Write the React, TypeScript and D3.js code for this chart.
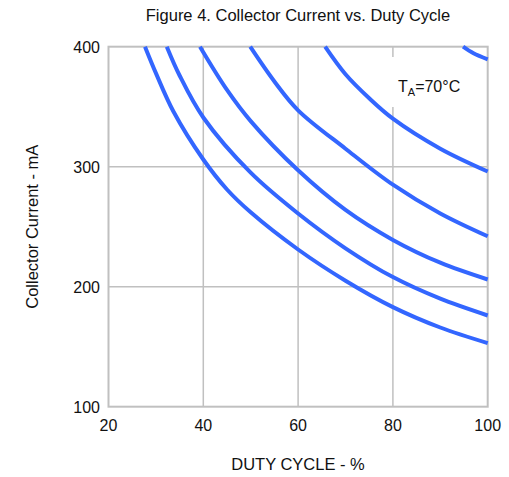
import React from 'react';
import * as d3 from 'd3';

const W = 509;
const H = 477;

// curves: duty cycle (%) and collector current (mA)
const curve1Duty = [27.7, 30, 33.7, 40, 45, 50, 60, 70, 80, 90, 100];
const curve1Current = [400, 378, 346, 306, 281, 262, 231, 205, 183, 166, 153];
const curve2Duty = [32.3, 35, 40, 50, 60, 70, 80, 90, 100];
const curve2Current = [400, 376, 341, 295, 261, 232, 208, 190, 176];
const curve3Duty = [39.3, 45, 50, 60, 70, 80, 90, 100];
const curve3Current = [400, 364, 338, 297, 264, 239, 220, 206];
const curve4Duty = [49.9, 55, 60, 70, 80, 90, 100];
const curve4Current = [400, 371, 347, 315, 285, 261, 242];
const curve5Duty = [65.7, 70, 75, 80, 90, 100];
const curve5Current = [400, 377, 357, 340, 315, 296];
const curve6Duty = [94.8, 97, 100];
const curve6Current = [400, 394.5, 389.5];

const xTicks = [20, 40, 60, 80, 100];
const yTicks = [100, 200, 300, 400];

const curves = [
  [curve1Duty, curve1Current],
  [curve2Duty, curve2Current],
  [curve3Duty, curve3Current],
  [curve4Duty, curve4Current],
  [curve5Duty, curve5Current],
  [curve6Duty, curve6Current],
].map(([xs, ys]) => xs.map((x, i) => [x, ys[i]] as [number, number]));

const FONT = 'Liberation Sans, Arial, sans-serif';
const BLUE = '#3366ff';
const GRID = '#c0c0c0';

export default function App() {
  const x = d3.scaleLinear().domain([20, 100]).range([108.5, 487.7]);
  const y = d3.scaleLinear().domain([100, 400]).range([406.7, 46.7]);

  const line = d3.line<[number, number]>()
    .x(d => x(d[0]))
    .y(d => y(d[1]))
    .curve(d3.curveCatmullRom.alpha(0.5));

  return (
    <svg width={W} height={H} style={{ position: 'absolute', left: 0, top: 0, background: '#fff' }}
      fontFamily={FONT}>
      <text x={298} y={21} textAnchor="middle" fontSize={16.5} fill="#111">
        Figure 4. Collector Current vs. Duty Cycle
      </text>

      {/* grid */}
      {xTicks.slice(1, -1).map(t => (
        <line key={'gx' + t} x1={x(t)} x2={x(t)} y1={y(400)} y2={y(100)} stroke={GRID} strokeWidth={1.5} />
      ))}
      {yTicks.slice(1, -1).map(t => (
        <line key={'gy' + t} x1={x(20)} x2={x(100)} y1={y(t)} y2={y(t)} stroke={GRID} strokeWidth={1.5} />
      ))}

      {/* label box knocks out the grid */}
      <rect x={388} y={57} width={80} height={50} fill="#fff" />
      <text x={398} y={91.5} fontSize={16} fill="#111">
        T<tspan fontSize={11} dy={4}>A</tspan><tspan dy={-4}>=70°C</tspan>
      </text>

      <rect x={x(20)} y={y(400)} width={x(100) - x(20)} height={y(100) - y(400)}
        fill="none" stroke={GRID} strokeWidth={2} />

      {/* curves */}
      <g>
        {curves.map((c, i) => (
          <path key={i} d={line(c) || ''} fill="none" stroke={BLUE} strokeWidth={4} strokeLinecap="butt" />
        ))}
      </g>

      {/* tick labels */}
      {xTicks.map(t => (
        <text key={'tx' + t} x={x(t)} y={431} textAnchor="middle" fontSize={16} fill="#111">{t}</text>
      ))}
      {yTicks.map(t => (
        <text key={'ty' + t} x={100} y={y(t) + 6} textAnchor="end" fontSize={16} fill="#111">{t}</text>
      ))}

      <text x={298} y={470} textAnchor="middle" fontSize={16.5} fill="#111">DUTY CYCLE - %</text>
      <text transform={`translate(38,${(y(400) + y(100)) / 2}) rotate(-90)`} textAnchor="middle"
        fontSize={16.5} fill="#111">Collector Current - mA</text>
    </svg>
  );
}
